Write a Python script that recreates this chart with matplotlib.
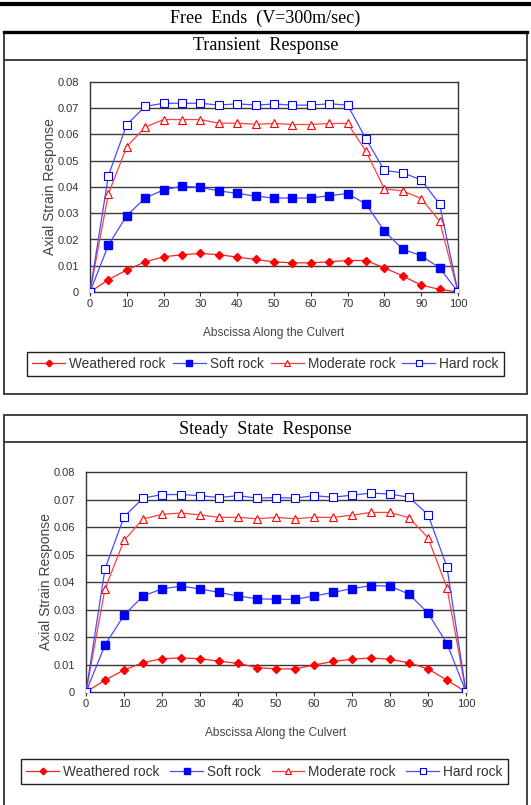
import numpy as np
import matplotlib
matplotlib.use("Agg")
import matplotlib.pyplot as plt
from matplotlib.patches import Rectangle
from matplotlib.lines import Line2D

# =============================================================================
# DATA
# =============================================================================
abscissa = list(range(0, 101, 5))
series_names = ['Weathered rock', 'Soft rock', 'Moderate rock', 'Hard rock']

tr_weathered = [0, 0.0047, 0.0084, 0.0115, 0.0134, 0.0142, 0.0147, 0.0142, 0.0133, 0.0124, 0.0115,
                0.0111, 0.0111, 0.0115, 0.0120, 0.0120, 0.0092, 0.0061, 0.0026, 0.0010, 0]
tr_soft = [0, 0.0179, 0.0291, 0.0358, 0.0389, 0.0403, 0.0399, 0.0385, 0.0376, 0.0365, 0.0358,
           0.0358, 0.0358, 0.0367, 0.0375, 0.0335, 0.0232, 0.0163, 0.0138, 0.0092, 0]
tr_moderate = [0, 0.0374, 0.0554, 0.0628, 0.0657, 0.0657, 0.0657, 0.0643, 0.0643, 0.0639, 0.0642,
               0.0638, 0.0638, 0.0642, 0.0642, 0.0536, 0.0393, 0.0385, 0.0356, 0.0270, 0]
tr_hard = [0, 0.0443, 0.0638, 0.0707, 0.0719, 0.0719, 0.0719, 0.0712, 0.0717, 0.0712, 0.0716,
           0.0712, 0.0712, 0.0717, 0.0712, 0.0583, 0.0463, 0.0454, 0.0427, 0.0335, 0]

ss_weathered = [0, 0.0043, 0.0080, 0.0107, 0.0121, 0.0124, 0.0121, 0.0112, 0.0104, 0.0089, 0.0084,
                0.0084, 0.0098, 0.0111, 0.0119, 0.0124, 0.0119, 0.0106, 0.0084, 0.0043, 0]
ss_soft = [0, 0.0171, 0.0279, 0.0349, 0.0375, 0.0385, 0.0375, 0.0362, 0.0349, 0.0339, 0.0337,
           0.0337, 0.0349, 0.0362, 0.0376, 0.0387, 0.0385, 0.0356, 0.0287, 0.0176, 0]
ss_moderate = [0, 0.0375, 0.0551, 0.0629, 0.0646, 0.0651, 0.0644, 0.0635, 0.0635, 0.0630, 0.0635,
               0.0630, 0.0635, 0.0635, 0.0643, 0.0653, 0.0653, 0.0634, 0.0561, 0.0379, 0]
ss_hard = [0, 0.0448, 0.0637, 0.0705, 0.0718, 0.0718, 0.0714, 0.0707, 0.0714, 0.0705, 0.0707,
           0.0705, 0.0714, 0.0708, 0.0716, 0.0723, 0.0720, 0.0708, 0.0645, 0.0454, 0]

y_ticks = [0, 0.01, 0.02, 0.03, 0.04, 0.05, 0.06, 0.07, 0.08]
y_ticklabels = ['0', '0.01', '0.02', '0.03', '0.04', '0.05', '0.06', '0.07', '0.08']
x_ticks = list(range(0, 101, 10))

# =============================================================================
# LAYOUT (pixels)
# =============================================================================
W, H = 531, 805
fig = plt.figure(figsize=(W / 100, H / 100), dpi=100)


def fx(px):
    return px / W


def fy(py):
    return 1 - py / H


def box(x0, y0, x1, y1, lw=1.3, color='#333333'):
    fig.patches.append(Rectangle((fx(x0), fy(y1)), fx(x1) - fx(x0), fy(y0) - fy(y1),
                                 transform=fig.transFigure, fill=False, lw=lw, ec=color))


def hline(y, x0, x1, lw=1.3, color='#333333'):
    fig.lines.append(Line2D([fx(x0), fx(x1)], [fy(y), fy(y)], transform=fig.transFigure,
                            lw=lw, color=color))


serif = 'Liberation Serif'
sans = 'Liberation Sans'

# top rule and main title
hline(4, 0, W, lw=3, color='black')
fig.text(0.5, fy(18), 'Free  Ends  (V=300m/sec)', ha='center', va='center',
         family=serif, fontsize=13)

# panel frames
box(4, 32, 527, 394)
hline(32, 4, 527, lw=2.4, color='black')
hline(60, 4, 527)
fig.text(0.5, fy(46), 'Transient  Response', ha='center', va='center',
         family=serif, fontsize=13)

box(4, 415, 527, 808)
hline(442, 4, 527)
fig.text(0.5, fy(429), 'Steady  State  Response', ha='center', va='center',
         family=serif, fontsize=13)


def panel(ax_px, leg_px, ylab_x, weathered, soft, moderate, hard):
    x0, y0, x1, y1 = ax_px
    ax = fig.add_axes([fx(x0), fy(y1), fx(x1) - fx(x0), fy(y0) - fy(y1)])
    ax.set_xlim(0, 100)
    ax.set_ylim(0, 0.08)
    ax.set_yticks(y_ticks)
    ax.set_yticklabels(y_ticklabels)
    ax.set_xticks(x_ticks)
    for yt in y_ticks[1:-1]:
        ax.axhline(yt, color='#3a3a3a', lw=1.0, zorder=1)
    for s in ax.spines.values():
        s.set_color('#333333')
        s.set_linewidth(1.0)
    ax.tick_params(labelsize=8, labelcolor='#333333', color='#333333', length=3,
                   direction='out')
    ax.tick_params(axis='x', pad=2)
    ax.tick_params(axis='y', length=0, pad=8)
    for lab in ax.get_xticklabels() + ax.get_yticklabels():
        lab.set_family(sans)

    ax.plot(abscissa, weathered, color='#ff2020', lw=0.9, marker='D', ms=4.5,
            mfc='red', mec='red', label=series_names[0], zorder=3)
    ax.plot(abscissa, soft, color='#4a4aff', lw=0.9, marker='s', ms=5.5,
            mfc='blue', mec='blue', label=series_names[1], zorder=3)
    ax.plot(abscissa, moderate, color='#ff4040', lw=0.9, marker='^', ms=6,
            mfc='white', mec='red', mew=0.8, label=series_names[2], zorder=3)
    ax.plot(abscissa, hard, color='#4a4aff', lw=0.9, marker='s', ms=6,
            mfc='white', mec='blue', mew=0.8, label=series_names[3], zorder=3)

    ax.set_ylabel('Axial Strain Response', family=sans, fontsize=10, color='#444444',
                  va='center')
    ax.yaxis.set_label_coords((ylab_x - x0) / (x1 - x0), 0.5)
    ax.set_xlabel('Abscissa Along the Culvert', family=sans, fontsize=8.6, color='#444444',
                  va='center')
    ax.xaxis.set_label_coords(0.5, -41 / (y1 - y0))

    lx0, ly0, lx1, ly1 = leg_px
    leg = ax.legend(loc='center', ncol=4, mode='expand',
                    bbox_to_anchor=(fx(lx0), fy(ly1), fx(lx1) - fx(lx0), fy(ly0) - fy(ly1)),
                    bbox_transform=fig.transFigure, borderaxespad=0, fancybox=False,
                    framealpha=1, edgecolor='#222222', handlelength=2.4, handletextpad=0.3,
                    columnspacing=0.8, prop={'family': sans, 'size': 9.8},
                    markerscale=0.75)
    leg.get_frame().set_linewidth(1.0)
    for t in leg.get_texts():
        t.set_color('#333333')
    return ax


panel((90, 82, 458, 292), (27, 347, 504, 381), 50, tr_weathered, tr_soft, tr_moderate, tr_hard)
panel((86, 472, 466, 692), (21, 753, 508, 790), 46, ss_weathered, ss_soft, ss_moderate, ss_hard)

fig.savefig('out.png', dpi=100)
